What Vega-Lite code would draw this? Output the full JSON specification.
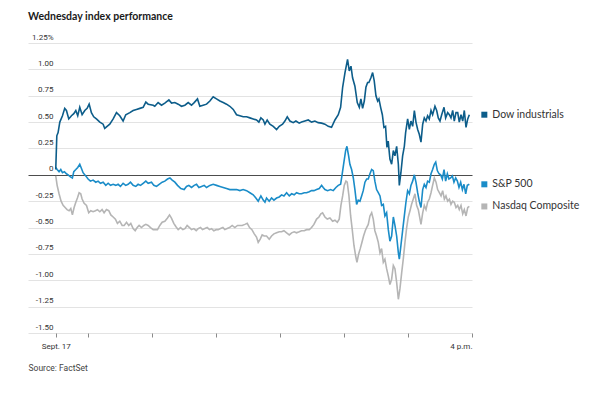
{
"$schema":"https://vega.github.io/schema/vega-lite/v6.json",
"width":444,"height":290,
"autosize":{"type":"none"},
"padding":{"left":28,"top":43,"right":128,"bottom":66},
"background":"white",
"config":{"view":{"stroke":null}},
"title":{"text":"Wednesday index performance","anchor":"start","frame":"group","font":"Lato","fontSize":10.5,"fontWeight":"bold","color":"#1a1a1a","offset":11},
"datasets":{
"names":[{"s":"D","name":"Dow industrials"},{"s":"S","name":"S&P 500"},{"s":"N","name":"Nasdaq Composite"}],
"idx":[
{"t":0,"s":"N","v":-0.01},{"t":1.3,"s":"N","v":-0.10},{"t":3.1,"s":"N","v":-0.18},{"t":5,"s":"N","v":-0.25},{"t":6.9,"s":"N","v":-0.29},{"t":8.8,"s":"N","v":-0.31},{"t":10.6,"s":"N","v":-0.33},{"t":12.5,"s":"N","v":-0.34},{"t":14.1,"s":"N","v":-0.32},{"t":15.6,"s":"N","v":-0.38},{"t":17.2,"s":"N","v":-0.31},{"t":18.8,"s":"N","v":-0.26},{"t":20.3,"s":"N","v":-0.22},{"t":21.9,"s":"N","v":-0.17},{"t":23.4,"s":"N","v":-0.18},{"t":24.7,"s":"N","v":-0.23},{"t":26.6,"s":"N","v":-0.27},{"t":28.8,"s":"N","v":-0.29},{"t":30.9,"s":"N","v":-0.36},{"t":32.8,"s":"N","v":-0.34},{"t":35,"s":"N","v":-0.35},{"t":37.2,"s":"N","v":-0.34},{"t":39.1,"s":"N","v":-0.33},{"t":41.3,"s":"N","v":-0.35},{"t":43.4,"s":"N","v":-0.33},{"t":45.3,"s":"N","v":-0.36},{"t":47.5,"s":"N","v":-0.33},{"t":49.7,"s":"N","v":-0.34},{"t":51.6,"s":"N","v":-0.38},{"t":53.8,"s":"N","v":-0.40},{"t":55.9,"s":"N","v":-0.42},{"t":57.8,"s":"N","v":-0.46},{"t":60,"s":"N","v":-0.44},{"t":62.2,"s":"N","v":-0.48},{"t":64.1,"s":"N","v":-0.48},{"t":66.3,"s":"N","v":-0.45},{"t":68.4,"s":"N","v":-0.48},{"t":70.3,"s":"N","v":-0.46},{"t":72.5,"s":"N","v":-0.51},{"t":74.4,"s":"N","v":-0.53},{"t":76.3,"s":"N","v":-0.50},{"t":78.1,"s":"N","v":-0.48},{"t":80.3,"s":"N","v":-0.50},{"t":82.5,"s":"N","v":-0.48},{"t":84.4,"s":"N","v":-0.47},{"t":86.6,"s":"N","v":-0.48},{"t":88.8,"s":"N","v":-0.50},{"t":91.3,"s":"N","v":-0.52},{"t":93.8,"s":"N","v":-0.52},{"t":95.3,"s":"N","v":-0.52},{"t":97.5,"s":"N","v":-0.48},{"t":99.7,"s":"N","v":-0.45},{"t":102.2,"s":"N","v":-0.44},{"t":104.7,"s":"N","v":-0.41},{"t":106.6,"s":"N","v":-0.38},{"t":108.4,"s":"N","v":-0.41},{"t":110.6,"s":"N","v":-0.46},{"t":112.5,"s":"N","v":-0.49},{"t":114.7,"s":"N","v":-0.52},{"t":116.9,"s":"N","v":-0.50},{"t":119.1,"s":"N","v":-0.52},{"t":121,"s":"N","v":-0.51},{"t":123.1,"s":"N","v":-0.48},{"t":125.3,"s":"N","v":-0.50},{"t":127.2,"s":"N","v":-0.52},{"t":129.4,"s":"N","v":-0.51},{"t":131.6,"s":"N","v":-0.53},{"t":133.4,"s":"N","v":-0.51},{"t":135.6,"s":"N","v":-0.50},{"t":137.5,"s":"N","v":-0.52},{"t":139.7,"s":"N","v":-0.51},{"t":141.9,"s":"N","v":-0.50},{"t":144.1,"s":"N","v":-0.52},{"t":146,"s":"N","v":-0.51},{"t":148.1,"s":"N","v":-0.53},{"t":150.3,"s":"N","v":-0.52},{"t":152.2,"s":"N","v":-0.52},{"t":154.4,"s":"N","v":-0.51},{"t":156.6,"s":"N","v":-0.50},{"t":158.4,"s":"N","v":-0.52},{"t":160.6,"s":"N","v":-0.51},{"t":162.8,"s":"N","v":-0.50},{"t":165.3,"s":"N","v":-0.48},{"t":167.8,"s":"N","v":-0.50},{"t":170.3,"s":"N","v":-0.48},{"t":172.5,"s":"N","v":-0.48},{"t":174.7,"s":"N","v":-0.48},{"t":177.2,"s":"N","v":-0.47},{"t":179.4,"s":"N","v":-0.46},{"t":181.6,"s":"N","v":-0.50},{"t":183.8,"s":"N","v":-0.52},{"t":186,"s":"N","v":-0.56},{"t":188.1,"s":"N","v":-0.59},{"t":189.7,"s":"N","v":-0.64},{"t":191.6,"s":"N","v":-0.61},{"t":193.4,"s":"N","v":-0.57},{"t":195.3,"s":"N","v":-0.58},{"t":197.5,"s":"N","v":-0.58},{"t":200,"s":"N","v":-0.61},{"t":202.2,"s":"N","v":-0.58},{"t":204.4,"s":"N","v":-0.56},{"t":206.9,"s":"N","v":-0.55},{"t":209.4,"s":"N","v":-0.54},{"t":211.6,"s":"N","v":-0.54},{"t":213.8,"s":"N","v":-0.53},{"t":216.3,"s":"N","v":-0.55},{"t":218.8,"s":"N","v":-0.57},{"t":221,"s":"N","v":-0.55},{"t":223.4,"s":"N","v":-0.54},{"t":225.6,"s":"N","v":-0.55},{"t":228.1,"s":"N","v":-0.54},{"t":230.3,"s":"N","v":-0.53},{"t":232.8,"s":"N","v":-0.53},{"t":235,"s":"N","v":-0.52},{"t":237.5,"s":"N","v":-0.52},{"t":239.7,"s":"N","v":-0.50},{"t":241.9,"s":"N","v":-0.47},{"t":244.4,"s":"N","v":-0.42},{"t":246.6,"s":"N","v":-0.40},{"t":248.4,"s":"N","v":-0.37},{"t":250,"s":"N","v":-0.36},{"t":252.2,"s":"N","v":-0.40},{"t":254.4,"s":"N","v":-0.42},{"t":256.9,"s":"N","v":-0.41},{"t":259.4,"s":"N","v":-0.44},{"t":261.6,"s":"N","v":-0.43},{"t":263.8,"s":"N","v":-0.45},{"t":265.6,"s":"N","v":-0.42},{"t":267.2,"s":"N","v":-0.29},{"t":268.8,"s":"N","v":-0.20},{"t":270.3,"s":"N","v":-0.10},{"t":271.9,"s":"N","v":-0.06},{"t":273.1,"s":"N","v":-0.07},{"t":274.7,"s":"N","v":-0.20},{"t":276.3,"s":"N","v":-0.39},{"t":277.8,"s":"N","v":-0.52},{"t":279.4,"s":"N","v":-0.67},{"t":281,"s":"N","v":-0.77},{"t":282.2,"s":"N","v":-0.83},{"t":283.8,"s":"N","v":-0.75},{"t":285.3,"s":"N","v":-0.70},{"t":286.9,"s":"N","v":-0.64},{"t":288.4,"s":"N","v":-0.58},{"t":290,"s":"N","v":-0.53},{"t":291.3,"s":"N","v":-0.50},{"t":292.8,"s":"N","v":-0.47},{"t":294.4,"s":"N","v":-0.39},{"t":296,"s":"N","v":-0.36},{"t":297.5,"s":"N","v":-0.42},{"t":299,"s":"N","v":-0.53},{"t":300.6,"s":"N","v":-0.58},{"t":302.2,"s":"N","v":-0.64},{"t":303.8,"s":"N","v":-0.74},{"t":305.3,"s":"N","v":-0.70},{"t":306.9,"s":"N","v":-0.83},{"t":308.4,"s":"N","v":-0.80},{"t":310,"s":"N","v":-0.89},{"t":311.6,"s":"N","v":-0.96},{"t":313.1,"s":"N","v":-1.04},{"t":314.7,"s":"N","v":-0.99},{"t":316.3,"s":"N","v":-0.86},{"t":317.8,"s":"N","v":-0.89},{"t":319.4,"s":"N","v":-1.02},{"t":321,"s":"N","v":-1.18},{"t":322.5,"s":"N","v":-1.08},{"t":324.1,"s":"N","v":-0.93},{"t":325.6,"s":"N","v":-0.80},{"t":327.2,"s":"N","v":-0.64},{"t":328.8,"s":"N","v":-0.50},{"t":330.3,"s":"N","v":-0.40},{"t":331.9,"s":"N","v":-0.34},{"t":333.4,"s":"N","v":-0.28},{"t":335,"s":"N","v":-0.23},{"t":336.6,"s":"N","v":-0.18},{"t":338.1,"s":"N","v":-0.29},{"t":339.7,"s":"N","v":-0.33},{"t":341.3,"s":"N","v":-0.42},{"t":342.2,"s":"N","v":-0.47},{"t":343.8,"s":"N","v":-0.36},{"t":345.3,"s":"N","v":-0.29},{"t":346.9,"s":"N","v":-0.33},{"t":348.4,"s":"N","v":-0.26},{"t":350,"s":"N","v":-0.23},{"t":351.6,"s":"N","v":-0.17},{"t":353.1,"s":"N","v":-0.10},{"t":354.7,"s":"N","v":-0.03},{"t":356.3,"s":"N","v":-0.07},{"t":357.8,"s":"N","v":-0.14},{"t":359.4,"s":"N","v":-0.17},{"t":361,"s":"N","v":-0.20},{"t":362.5,"s":"N","v":-0.15},{"t":364.1,"s":"N","v":-0.23},{"t":365.6,"s":"N","v":-0.20},{"t":367.2,"s":"N","v":-0.25},{"t":368.8,"s":"N","v":-0.23},{"t":370.3,"s":"N","v":-0.28},{"t":371.9,"s":"N","v":-0.25},{"t":373.4,"s":"N","v":-0.26},{"t":375,"s":"N","v":-0.31},{"t":376.6,"s":"N","v":-0.29},{"t":378.1,"s":"N","v":-0.33},{"t":379.7,"s":"N","v":-0.29},{"t":381.3,"s":"N","v":-0.37},{"t":382.8,"s":"N","v":-0.33},{"t":384.4,"s":"N","v":-0.39},{"t":386,"s":"N","v":-0.31},{"t":387.5,"s":"N","v":-0.30},
{"t":0,"s":"S","v":0.07},{"t":1.3,"s":"S","v":0.05},{"t":3.1,"s":"S","v":0.03},{"t":4.7,"s":"S","v":0.05},{"t":6.3,"s":"S","v":0.02},{"t":8.1,"s":"S","v":0.03},{"t":10,"s":"S","v":0.01},{"t":11.6,"s":"S","v":0},{"t":13.8,"s":"S","v":-0.02},{"t":15.6,"s":"S","v":-0.03},{"t":16.9,"s":"S","v":0.03},{"t":18.8,"s":"S","v":0.05},{"t":20.6,"s":"S","v":0.07},{"t":22.5,"s":"S","v":0.10},{"t":24.1,"s":"S","v":0.06},{"t":25.6,"s":"S","v":0.02},{"t":28.1,"s":"S","v":-0.01},{"t":30.3,"s":"S","v":-0.04},{"t":32.5,"s":"S","v":-0.06},{"t":35,"s":"S","v":-0.05},{"t":37.5,"s":"S","v":-0.07},{"t":39.7,"s":"S","v":-0.06},{"t":41.9,"s":"S","v":-0.08},{"t":44.4,"s":"S","v":-0.07},{"t":46.9,"s":"S","v":-0.10},{"t":49.1,"s":"S","v":-0.08},{"t":51.3,"s":"S","v":-0.10},{"t":53.8,"s":"S","v":-0.09},{"t":56.3,"s":"S","v":-0.10},{"t":58.4,"s":"S","v":-0.09},{"t":60.6,"s":"S","v":-0.11},{"t":63.1,"s":"S","v":-0.08},{"t":65.6,"s":"S","v":-0.10},{"t":67.8,"s":"S","v":-0.09},{"t":70,"s":"S","v":-0.07},{"t":72.5,"s":"S","v":-0.10},{"t":75,"s":"S","v":-0.11},{"t":77.2,"s":"S","v":-0.09},{"t":79.4,"s":"S","v":-0.10},{"t":81.9,"s":"S","v":-0.08},{"t":84.4,"s":"S","v":-0.06},{"t":86.6,"s":"S","v":-0.08},{"t":89.7,"s":"S","v":-0.07},{"t":91.9,"s":"S","v":-0.10},{"t":94.4,"s":"S","v":-0.11},{"t":96.9,"s":"S","v":-0.09},{"t":99.7,"s":"S","v":-0.07},{"t":102.2,"s":"S","v":-0.06},{"t":104.7,"s":"S","v":-0.04},{"t":107,"s":"S","v":-0.03},{"t":109.1,"s":"S","v":-0.05},{"t":111.6,"s":"S","v":-0.07},{"t":114.1,"s":"S","v":-0.10},{"t":117.2,"s":"S","v":-0.13},{"t":120.3,"s":"S","v":-0.14},{"t":122.5,"s":"S","v":-0.11},{"t":124.7,"s":"S","v":-0.10},{"t":127.2,"s":"S","v":-0.12},{"t":129.7,"s":"S","v":-0.10},{"t":131.9,"s":"S","v":-0.09},{"t":134.1,"s":"S","v":-0.12},{"t":136.6,"s":"S","v":-0.11},{"t":139.1,"s":"S","v":-0.10},{"t":141.3,"s":"S","v":-0.12},{"t":144.4,"s":"S","v":-0.10},{"t":147.5,"s":"S","v":-0.09},{"t":150.6,"s":"S","v":-0.10},{"t":153.8,"s":"S","v":-0.11},{"t":156.9,"s":"S","v":-0.12},{"t":160,"s":"S","v":-0.13},{"t":163.1,"s":"S","v":-0.14},{"t":166.3,"s":"S","v":-0.14},{"t":169.4,"s":"S","v":-0.14},{"t":172.5,"s":"S","v":-0.15},{"t":175.6,"s":"S","v":-0.14},{"t":178.8,"s":"S","v":-0.15},{"t":181.9,"s":"S","v":-0.17},{"t":185,"s":"S","v":-0.19},{"t":187.5,"s":"S","v":-0.22},{"t":189.7,"s":"S","v":-0.25},{"t":192.2,"s":"S","v":-0.20},{"t":194.4,"s":"S","v":-0.24},{"t":196,"s":"S","v":-0.26},{"t":197.5,"s":"S","v":-0.22},{"t":200,"s":"S","v":-0.25},{"t":202.2,"s":"S","v":-0.22},{"t":204.4,"s":"S","v":-0.24},{"t":206.9,"s":"S","v":-0.22},{"t":209.4,"s":"S","v":-0.21},{"t":211.6,"s":"S","v":-0.19},{"t":213.8,"s":"S","v":-0.20},{"t":216.3,"s":"S","v":-0.17},{"t":218.8,"s":"S","v":-0.20},{"t":221,"s":"S","v":-0.18},{"t":223.4,"s":"S","v":-0.19},{"t":225.6,"s":"S","v":-0.17},{"t":228.1,"s":"S","v":-0.18},{"t":230.3,"s":"S","v":-0.18},{"t":232.8,"s":"S","v":-0.17},{"t":235,"s":"S","v":-0.17},{"t":237.5,"s":"S","v":-0.16},{"t":239.7,"s":"S","v":-0.15},{"t":241.9,"s":"S","v":-0.15},{"t":244.4,"s":"S","v":-0.14},{"t":246.9,"s":"S","v":-0.13},{"t":249.1,"s":"S","v":-0.10},{"t":250.6,"s":"S","v":-0.12},{"t":252.2,"s":"S","v":-0.14},{"t":254.7,"s":"S","v":-0.15},{"t":257.5,"s":"S","v":-0.14},{"t":260,"s":"S","v":-0.15},{"t":262.5,"s":"S","v":-0.12},{"t":264.7,"s":"S","v":-0.10},{"t":266.9,"s":"S","v":-0.09},{"t":268.4,"s":"S","v":0.01},{"t":270,"s":"S","v":0.12},{"t":271.6,"s":"S","v":0.23},{"t":272.8,"s":"S","v":0.27},{"t":274.4,"s":"S","v":0.18},{"t":275.6,"s":"S","v":0.10},{"t":277.2,"s":"S","v":0.05},{"t":278.8,"s":"S","v":-0.03},{"t":280.3,"s":"S","v":-0.14},{"t":281.9,"s":"S","v":-0.28},{"t":283.4,"s":"S","v":-0.24},{"t":285,"s":"S","v":-0.25},{"t":286.6,"s":"S","v":-0.20},{"t":288.1,"s":"S","v":-0.15},{"t":289.7,"s":"S","v":-0.07},{"t":291.3,"s":"S","v":-0.04},{"t":292.8,"s":"S","v":-0.04},{"t":294.4,"s":"S","v":0.01},{"t":296,"s":"S","v":0.05},{"t":297.5,"s":"S","v":0.04},{"t":299,"s":"S","v":-0.06},{"t":300.6,"s":"S","v":-0.14},{"t":302.2,"s":"S","v":-0.17},{"t":303.8,"s":"S","v":-0.20},{"t":305.3,"s":"S","v":-0.29},{"t":306.9,"s":"S","v":-0.28},{"t":308.4,"s":"S","v":-0.39},{"t":310,"s":"S","v":-0.36},{"t":311.6,"s":"S","v":-0.52},{"t":313.1,"s":"S","v":-0.63},{"t":314.7,"s":"S","v":-0.58},{"t":316.3,"s":"S","v":-0.40},{"t":317.8,"s":"S","v":-0.48},{"t":319.4,"s":"S","v":-0.58},{"t":321,"s":"S","v":-0.74},{"t":321.9,"s":"S","v":-0.80},{"t":323.4,"s":"S","v":-0.67},{"t":325,"s":"S","v":-0.53},{"t":326.6,"s":"S","v":-0.39},{"t":328.1,"s":"S","v":-0.26},{"t":329.7,"s":"S","v":-0.15},{"t":331.3,"s":"S","v":-0.18},{"t":332.8,"s":"S","v":-0.10},{"t":334.4,"s":"S","v":-0.06},{"t":336,"s":"S","v":0},{"t":337.5,"s":"S","v":-0.07},{"t":339.1,"s":"S","v":-0.17},{"t":340.6,"s":"S","v":-0.25},{"t":342.2,"s":"S","v":-0.31},{"t":343.8,"s":"S","v":-0.14},{"t":345.3,"s":"S","v":-0.09},{"t":346.9,"s":"S","v":-0.12},{"t":348.4,"s":"S","v":-0.06},{"t":350,"s":"S","v":-0.07},{"t":351.6,"s":"S","v":0.01},{"t":353.1,"s":"S","v":0.05},{"t":354.7,"s":"S","v":0.10},{"t":356,"s":"S","v":0.12},{"t":357.5,"s":"S","v":0.04},{"t":359.1,"s":"S","v":0.01},{"t":360.6,"s":"S","v":0},{"t":362.2,"s":"S","v":-0.04},{"t":363.8,"s":"S","v":0.05},{"t":365.3,"s":"S","v":-0.06},{"t":366.9,"s":"S","v":0.01},{"t":368.4,"s":"S","v":-0.04},{"t":370,"s":"S","v":-0.03},{"t":371.6,"s":"S","v":-0.01},{"t":373.1,"s":"S","v":-0.07},{"t":374.7,"s":"S","v":-0.03},{"t":376.3,"s":"S","v":-0.06},{"t":377.8,"s":"S","v":-0.12},{"t":379.4,"s":"S","v":-0.07},{"t":381,"s":"S","v":-0.14},{"t":382.5,"s":"S","v":-0.09},{"t":384.1,"s":"S","v":-0.18},{"t":385.6,"s":"S","v":-0.10},{"t":387.5,"s":"S","v":-0.09},
{"t":0,"s":"D","v":0.05},{"t":1,"s":"D","v":0.37},{"t":2.2,"s":"D","v":0.40},{"t":3.8,"s":"D","v":0.50},{"t":6.3,"s":"D","v":0.56},{"t":8.4,"s":"D","v":0.63},{"t":10,"s":"D","v":0.61},{"t":12.2,"s":"D","v":0.53},{"t":14.7,"s":"D","v":0.56},{"t":16.9,"s":"D","v":0.58},{"t":18.8,"s":"D","v":0.61},{"t":20.6,"s":"D","v":0.56},{"t":22.5,"s":"D","v":0.64},{"t":24.7,"s":"D","v":0.57},{"t":27.2,"s":"D","v":0.61},{"t":29.4,"s":"D","v":0.63},{"t":31.3,"s":"D","v":0.67},{"t":33.4,"s":"D","v":0.59},{"t":35.6,"s":"D","v":0.55},{"t":38.1,"s":"D","v":0.53},{"t":41.3,"s":"D","v":0.50},{"t":44.4,"s":"D","v":0.48},{"t":45.9,"s":"D","v":0.44},{"t":48.1,"s":"D","v":0.46},{"t":50.6,"s":"D","v":0.48},{"t":53.8,"s":"D","v":0.53},{"t":56.9,"s":"D","v":0.59},{"t":60,"s":"D","v":0.56},{"t":63.1,"s":"D","v":0.51},{"t":65.6,"s":"D","v":0.57},{"t":69.4,"s":"D","v":0.59},{"t":72.5,"s":"D","v":0.61},{"t":75.6,"s":"D","v":0.62},{"t":78.8,"s":"D","v":0.63},{"t":81.9,"s":"D","v":0.64},{"t":84.4,"s":"D","v":0.69},{"t":86.6,"s":"D","v":0.67},{"t":91.3,"s":"D","v":0.66},{"t":92.8,"s":"D","v":0.65},{"t":95.9,"s":"D","v":0.685},{"t":99.1,"s":"D","v":0.66},{"t":102.2,"s":"D","v":0.68},{"t":106,"s":"D","v":0.71},{"t":108.5,"s":"D","v":0.68},{"t":111.6,"s":"D","v":0.685},{"t":114.7,"s":"D","v":0.67},{"t":117.8,"s":"D","v":0.65},{"t":121,"s":"D","v":0.66},{"t":124.1,"s":"D","v":0.685},{"t":127.2,"s":"D","v":0.66},{"t":129.7,"s":"D","v":0.685},{"t":132.8,"s":"D","v":0.72},{"t":135,"s":"D","v":0.65},{"t":138.1,"s":"D","v":0.66},{"t":141.3,"s":"D","v":0.67},{"t":144.4,"s":"D","v":0.70},{"t":147.5,"s":"D","v":0.74},{"t":150.6,"s":"D","v":0.72},{"t":153.8,"s":"D","v":0.70},{"t":156.9,"s":"D","v":0.685},{"t":160,"s":"D","v":0.67},{"t":163.1,"s":"D","v":0.65},{"t":166.3,"s":"D","v":0.62},{"t":169.4,"s":"D","v":0.57},{"t":172.5,"s":"D","v":0.56},{"t":175.6,"s":"D","v":0.55},{"t":178.8,"s":"D","v":0.55},{"t":181.9,"s":"D","v":0.54},{"t":185,"s":"D","v":0.53},{"t":188.1,"s":"D","v":0.52},{"t":190.3,"s":"D","v":0.50},{"t":192.2,"s":"D","v":0.54},{"t":194.4,"s":"D","v":0.52},{"t":196,"s":"D","v":0.48},{"t":198.1,"s":"D","v":0.52},{"t":200.6,"s":"D","v":0.48},{"t":203.8,"s":"D","v":0.46},{"t":206.9,"s":"D","v":0.43},{"t":209.4,"s":"D","v":0.46},{"t":212.5,"s":"D","v":0.48},{"t":214.7,"s":"D","v":0.51},{"t":216.9,"s":"D","v":0.55},{"t":219.4,"s":"D","v":0.51},{"t":222.5,"s":"D","v":0.495},{"t":225,"s":"D","v":0.51},{"t":228.1,"s":"D","v":0.49},{"t":230.3,"s":"D","v":0.50},{"t":233.4,"s":"D","v":0.51},{"t":236.6,"s":"D","v":0.52},{"t":239.7,"s":"D","v":0.50},{"t":242.8,"s":"D","v":0.51},{"t":245.9,"s":"D","v":0.495},{"t":249.1,"s":"D","v":0.49},{"t":252.2,"s":"D","v":0.48},{"t":255.3,"s":"D","v":0.46},{"t":258.4,"s":"D","v":0.45},{"t":261.6,"s":"D","v":0.52},{"t":264.7,"s":"D","v":0.57},{"t":266.9,"s":"D","v":0.64},{"t":268.8,"s":"D","v":0.83},{"t":271,"s":"D","v":0.97},{"t":273.4,"s":"D","v":1.095},{"t":275,"s":"D","v":0.985},{"t":276.6,"s":"D","v":1.03},{"t":278.1,"s":"D","v":0.92},{"t":280.3,"s":"D","v":0.84},{"t":282.5,"s":"D","v":0.685},{"t":284.4,"s":"D","v":0.64},{"t":285.9,"s":"D","v":0.72},{"t":287.5,"s":"D","v":0.63},{"t":289.1,"s":"D","v":0.70},{"t":290.6,"s":"D","v":0.83},{"t":292.2,"s":"D","v":0.875},{"t":293.4,"s":"D","v":0.875},{"t":295.3,"s":"D","v":0.92},{"t":296.9,"s":"D","v":0.97},{"t":298.4,"s":"D","v":0.89},{"t":300,"s":"D","v":0.75},{"t":301.6,"s":"D","v":0.70},{"t":302.8,"s":"D","v":0.72},{"t":304.4,"s":"D","v":0.64},{"t":306,"s":"D","v":0.57},{"t":307.5,"s":"D","v":0.45},{"t":309,"s":"D","v":0.46},{"t":310.3,"s":"D","v":0.26},{"t":311.5,"s":"D","v":0.32},{"t":313.1,"s":"D","v":0.15},{"t":314.7,"s":"D","v":0.10},{"t":316.3,"s":"D","v":0.23},{"t":317.8,"s":"D","v":0.18},{"t":319.4,"s":"D","v":0.27},{"t":321,"s":"D","v":0.10},{"t":321.9,"s":"D","v":-0.10},{"t":323.4,"s":"D","v":0.02},{"t":325,"s":"D","v":0.18},{"t":326.6,"s":"D","v":0.27},{"t":327.8,"s":"D","v":0.40},{"t":329.7,"s":"D","v":0.53},{"t":331.3,"s":"D","v":0.43},{"t":332.8,"s":"D","v":0.51},{"t":334.4,"s":"D","v":0.46},{"t":336,"s":"D","v":0.61},{"t":337.5,"s":"D","v":0.50},{"t":339.1,"s":"D","v":0.43},{"t":340.6,"s":"D","v":0.385},{"t":342.2,"s":"D","v":0.31},{"t":343.8,"s":"D","v":0.48},{"t":345.3,"s":"D","v":0.54},{"t":346.9,"s":"D","v":0.51},{"t":348.4,"s":"D","v":0.56},{"t":350,"s":"D","v":0.53},{"t":351.6,"s":"D","v":0.61},{"t":353.1,"s":"D","v":0.57},{"t":355.3,"s":"D","v":0.65},{"t":356.9,"s":"D","v":0.61},{"t":358.4,"s":"D","v":0.54},{"t":360,"s":"D","v":0.51},{"t":361.6,"s":"D","v":0.57},{"t":363.8,"s":"D","v":0.64},{"t":365.3,"s":"D","v":0.54},{"t":367.2,"s":"D","v":0.59},{"t":368.8,"s":"D","v":0.57},{"t":370.3,"s":"D","v":0.54},{"t":371.9,"s":"D","v":0.61},{"t":373.4,"s":"D","v":0.51},{"t":375,"s":"D","v":0.59},{"t":376.6,"s":"D","v":0.59},{"t":378.1,"s":"D","v":0.50},{"t":379.7,"s":"D","v":0.57},{"t":381.3,"s":"D","v":0.51},{"t":382.8,"s":"D","v":0.61},{"t":384.4,"s":"D","v":0.45},{"t":386,"s":"D","v":0.53},{"t":387.5,"s":"D","v":0.57}
]},
"data":{"name":"idx"},
"encoding":{
"x":{"field":"t","type":"quantitative","scale":{"domain":[-26,390],"nice":false,"zero":false},
"axis":{"values":[0,30,90,150,210,270,330,390],"labelExpr":"datum.value == 0 ? 'Sept. 17' : datum.value == 390 ? '4 p.m.' : ''","grid":false,"domain":false,"ticks":true,"tickSize":4,"tickColor":"#8a8a8a","labelFont":"Roboto","labelFontSize":8,"labelColor":"#333333","labelPadding":5,"labelFlush":true,"labelOverlap":false,"title":"Source: FactSet","titleAnchor":"start","titleAlign":"left","titleFont":"Roboto","titleFontSize":8.5,"titleFontWeight":"normal","titleColor":"#444444","titlePadding":13}},
"y":{"field":"v","type":"quantitative","scale":{"domain":[-1.5,1.25],"nice":false,"zero":false},
"axis":{"values":[-1.5,-1.25,-1,-0.75,-0.5,-0.25,0,0.25,0.5,0.75,1,1.25],"labelExpr":"datum.value == 1.25 ? '1.25%' : datum.value == 0 ? '0\u2007' : replace(format(datum.value, '.2f'), '\u2212', '-') + '\u2007'","grid":true,"gridColor":{"condition":{"test":"datum.value === 0","value":"#4d4d4d"},"value":"#e3e3e3"},"gridWidth":1,"domain":false,"ticks":false,"tickSize":0,"labelAlign":"right","labelBaseline":"alphabetic","labelPadding":-25,"labelOffset":-4,"labelFlush":false,"labelFont":"Roboto","labelFontSize":8,"labelColor":"#333333","labelOverlap":false,"labelBound":false,"title":null}},
"color":{"field":"s","type":"nominal","scale":{"domain":["D","S","N"],"range":["#0d5d8a","#1a8cc8","#b5b5b5"]},"legend":null}
},
"layer":[
{"mark":{"type":"line","strokeWidth":1.6,"interpolate":"linear"}},
{"transform":[{"joinaggregate":[{"op":"max","field":"t","as":"tmax"}],"groupby":["s"]},{"filter":"datum.t == datum.tmax"},{"lookup":"s","from":{"data":{"name":"names"},"key":"s","fields":["name"]}}],
 "mark":{"type":"square","size":36,"xOffset":15,"opacity":1,"filled":true}},
{"transform":[{"joinaggregate":[{"op":"max","field":"t","as":"tmax"}],"groupby":["s"]},{"filter":"datum.t == datum.tmax"},{"lookup":"s","from":{"data":{"name":"names"},"key":"s","fields":["name"]}}],
 "mark":{"type":"text","align":"left","baseline":"middle","dx":23,"font":"Lato","fontSize":10.5},
 "encoding":{"text":{"field":"name"},"color":{"value":"#333333"}}}
]
}
